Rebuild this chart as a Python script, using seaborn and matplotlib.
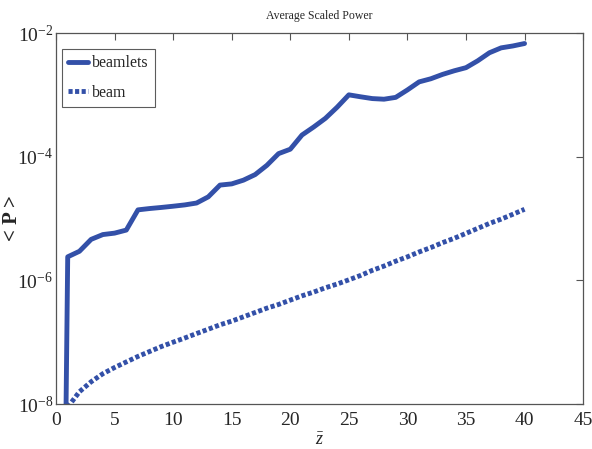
import matplotlib
matplotlib.use("Agg")
import matplotlib.pyplot as plt
import seaborn as sns
import pandas as pd
from matplotlib.ticker import FixedLocator, FixedFormatter

# propagation distance (normalised)
z_beamlets = [0.8] + list(range(1, 41))
p_beamlets = [1.0e-9,
              2.4e-6, 2.95e-6, 4.6e-6, 5.5e-6, 5.8e-6, 6.5e-6, 1.38e-5, 1.45e-5, 1.51e-5, 1.58e-5,
              1.66e-5, 1.78e-5, 2.24e-5, 3.47e-5, 3.63e-5, 4.17e-5, 5.13e-5, 7.24e-5, 1.12e-4, 1.32e-4,
              2.24e-4, 3.02e-4, 4.17e-4, 6.31e-4, 1.0e-3, 9.3e-4, 8.7e-4, 8.5e-4, 9.1e-4, 1.20e-3,
              1.62e-3, 1.82e-3, 2.14e-3, 2.45e-3, 2.75e-3, 3.55e-3, 4.79e-3, 5.75e-3, 6.17e-3, 6.76e-3]

z_beam = list(range(1, 41))
p_beam = [8.9e-9, 1.58e-8, 2.29e-8, 3.09e-8, 3.89e-8, 4.79e-8, 5.89e-8, 7.08e-8, 8.51e-8, 1.00e-7,
          1.17e-7, 1.38e-7, 1.62e-7, 1.91e-7, 2.19e-7, 2.57e-7, 3.02e-7, 3.55e-7, 4.07e-7, 4.79e-7,
          5.62e-7, 6.46e-7, 7.59e-7, 8.71e-7, 1.02e-6, 1.20e-6, 1.45e-6, 1.70e-6, 2.04e-6, 2.40e-6,
          2.88e-6, 3.39e-6, 4.07e-6, 4.79e-6, 5.75e-6, 6.92e-6, 8.32e-6, 9.77e-6, 1.17e-5, 1.41e-5]

x_ticks = [0, 5, 10, 15, 20, 25, 30, 35, 40, 45]
y_ticks = [1e-8, 1e-6, 1e-4, 1e-2]
y_tick_labels = [r"$10^{-8}$", r"$10^{-6}$", r"$10^{-4}$", r"$10^{-2}$"]

sns.set_theme(style="white")
plt.rcParams["font.family"] = ["Liberation Serif", "DejaVu Serif"]
plt.rcParams["mathtext.fontset"] = "custom"
plt.rcParams["mathtext.rm"] = "Liberation Serif"
plt.rcParams["mathtext.it"] = "Liberation Serif:italic"

color = "#3350a8"

df_lets = pd.DataFrame({"z": z_beamlets, "P": p_beamlets})
df_beam = pd.DataFrame({"z": z_beam, "P": p_beam})

fig = plt.figure(figsize=(5.92, 4.49), dpi=100)
ax = fig.add_axes([0.0946, 0.1002, 0.8904, 0.8263])

sns.lineplot(data=df_lets, x="z", y="P", ax=ax, color=color, linewidth=3.5,
             label="beamlets", solid_joinstyle="round")
sns.lineplot(data=df_beam, x="z", y="P", ax=ax, color=color, linewidth=3.5,
             linestyle=(0, (0.85, 0.5)), dash_capstyle="butt", label="beam")

ax.set_yscale("log")
ax.set_xlim(0, 45)
ax.set_ylim(1e-8, 1e-2)
ax.xaxis.set_major_locator(FixedLocator(x_ticks))
ax.yaxis.set_major_locator(FixedLocator(y_ticks))
ax.yaxis.set_major_formatter(FixedFormatter(y_tick_labels))
ax.yaxis.set_minor_locator(FixedLocator([]))
ax.tick_params(axis="both", which="major", direction="in", length=5, width=0.8,
               color="#555555", labelsize=14, top=True, right=True)
ax.tick_params(axis="x", pad=6)
ax.tick_params(axis="y", pad=2)
ax.tick_params(axis="both", which="minor", length=0)
for s in ax.spines.values():
    s.set_color("#555555")
    s.set_linewidth(0.9)

ax.set_title("Average Scaled Power", fontsize=8.5, pad=10)
ax.set_xlabel(r"$\bar{z}$", fontsize=13, labelpad=2)
ax.set_ylabel("< P >", fontsize=15, fontweight="bold")
ax.yaxis.set_label_coords(-0.0645, 0.5)

leg = ax.legend(loc="upper left", bbox_to_anchor=(0.0114, 0.957), borderaxespad=0,
                fontsize=11.5, frameon=True, fancybox=False,
                handlelength=1.2, handletextpad=0.3, borderpad=0.4,
                labelspacing=0.85)
leg.get_frame().set_edgecolor("#333333")
leg.get_frame().set_linewidth(0.8)

fig.savefig("out.png", dpi=100)
